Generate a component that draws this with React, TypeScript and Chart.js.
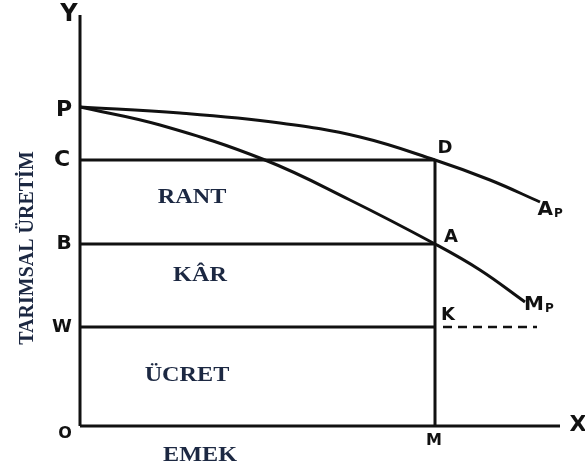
import React, { useEffect, useRef } from "react";
import { Chart, registerables } from "chart.js";

Chart.register(...registerables);

// Levels on the production (Y) axis
const levelP = 31.9;
const levelC = 26.6;
const levelB = 18.2;
const levelW = 9.9;
const laborM = 35.5;
const axisXMax = 48;
const axisYMax = 41.1;

// Average product curve (Ap)
const apX = [0, 10, 20, 28, 35.5, 41, 46];
const apY = [31.9, 31.3, 30.3, 28.9, 26.6, 24.6, 22.4];

// Marginal product curve (Mp)
const mpX = [0, 8, 18.5, 27, 35.5, 40, 44.5];
const mpY = [31.9, 30.1, 26.6, 22.6, 18.2, 15.6, 12.4];

// Dashed wage extension
const dashX = [36.3, 45.7];

// Point labels
const pointLabels = ["Y", "P", "C", "B", "W", "O", "X", "M", "D", "A", "K"];
const pointLabelX = [-1.1, -1.6, -1.8, -1.6, -1.8, -1.5, 49.8, 35.4, 36.5, 37.1, 36.8];
const pointLabelY = [41.1, 31.6, 26.6, 18.2, 9.9, -0.8, 0.1, -1.5, 27.8, 18.9, 11.1];
const pointLabelSize = [24, 22, 22, 20, 18, 16, 22, 16, 18, 18, 18];

// Curve labels (main letter + subscript)
const curveLabels = ["A", "M"];
const curveSubs = ["P", "P"];
const curveLabelX = [46.9, 46.0];
const curveLabelY = [21.6, 12.1];

// Region labels
const regionLabels = ["RANT", "KÂR", "ÜCRET", "EMEK"];
const regionLabelX = [11.2, 12, 10.7, 12];
const regionLabelY = [22.9, 15.1, 5.1, -2.9];

const yTitle = "TARIMSAL ÜRETİM";

const INK = "#111111";
const NAVY = "#1c2842";

const toPts = (xs: number[], ys: number[]) => xs.map((x, i) => ({ x, y: ys[i] }));

export default function App() {
  const ref = useRef<HTMLCanvasElement | null>(null);

  useEffect(() => {
    document.body.style.margin = "0";
    const canvas = ref.current;
    if (!canvas) return;

    const lineDs = (data: { x: number; y: number }[], extra: any = {}) => ({
      data,
      showLine: true,
      borderColor: INK,
      borderWidth: 3,
      pointRadius: 0,
      tension: 0,
      clip: false,
      ...extra,
    });

    const labelPlugin = {
      id: "labels",
      afterDraw(chart: any) {
        const ctx = chart.ctx;
        const xs = chart.scales.x;
        const ys = chart.scales.y;
        ctx.save();
        ctx.fillStyle = INK;
        ctx.textAlign = "center";
        ctx.textBaseline = "middle";
        pointLabels.forEach((t, i) => {
          ctx.font = `bold ${pointLabelSize[i]}px "DejaVu Sans"`;
          ctx.fillText(t, xs.getPixelForValue(pointLabelX[i]), ys.getPixelForValue(pointLabelY[i]));
        });
        curveLabels.forEach((t, i) => {
          const px = xs.getPixelForValue(curveLabelX[i]);
          const py = ys.getPixelForValue(curveLabelY[i]);
          ctx.font = `bold 20px "DejaVu Sans"`;
          ctx.textAlign = "right";
          ctx.fillText(t, px + 4, py);
          ctx.font = `bold 12px "DejaVu Sans"`;
          ctx.textAlign = "left";
          ctx.fillText(curveSubs[i], px + 5, py + 4);
        });
        ctx.fillStyle = NAVY;
        ctx.textAlign = "center";
        ctx.font = `bold 22px "Liberation Serif"`;
        regionLabels.forEach((t, i) => {
          const px = xs.getPixelForValue(regionLabelX[i]);
          const py = ys.getPixelForValue(regionLabelY[i]);
          ctx.save();
          ctx.translate(px, py);
          ctx.scale(1.1, 1);
          ctx.fillText(t, 0, 0);
          ctx.restore();
        });
        ctx.save();
        ctx.font = `bold 20px "Liberation Serif"`;
        ctx.textBaseline = "alphabetic";
        ctx.translate(33, 248);
        ctx.rotate(-Math.PI / 2);
        ctx.fillText(yTitle, 0, 0);
        ctx.restore();
        ctx.restore();
      },
    };

    const chart = new Chart(canvas, {
      type: "scatter",
      data: {
        datasets: [
          lineDs([{ x: 0, y: 0 }, { x: 0, y: axisYMax }]),
          lineDs([{ x: 0, y: 0 }, { x: axisXMax, y: 0 }]),
          lineDs([{ x: 0, y: levelC }, { x: laborM, y: levelC }]),
          lineDs([{ x: 0, y: levelB }, { x: laborM, y: levelB }]),
          lineDs([{ x: 0, y: levelW }, { x: laborM, y: levelW }]),
          lineDs([{ x: laborM, y: 0 }, { x: laborM, y: levelC }]),
          lineDs(toPts(dashX, [levelW, levelW]), { borderDash: [9, 6], borderWidth: 2.5 }),
          lineDs(toPts(apX, apY), { tension: 0.4 }),
          lineDs(toPts(mpX, mpY), { tension: 0.4 }),
        ],
      },
      options: {
        animation: false,
        responsive: false,
        layout: { padding: { left: 80, right: 25, top: 15, bottom: 44 } },
        scales: {
          x: { type: "linear", min: 0, max: axisXMax, display: false },
          y: { type: "linear", min: 0, max: axisYMax, display: false },
        },
        plugins: { legend: { display: false }, tooltip: { enabled: false } },
      },
      plugins: [labelPlugin],
    } as any);

    return () => chart.destroy();
  }, []);

  return (
    <div style={{ width: 585, height: 470, background: "#fff" }}>
      <canvas ref={ref} width={585} height={470} style={{ width: 585, height: 470, display: "block" }} />
    </div>
  );
}
